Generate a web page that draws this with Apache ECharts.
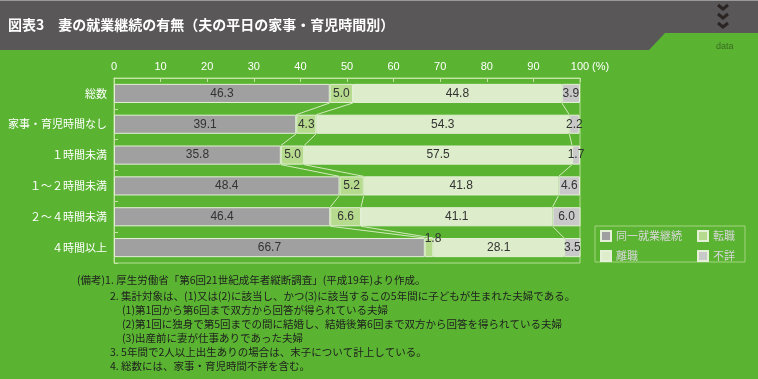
<!DOCTYPE html>
<html><head><meta charset="utf-8">
<script src="https://cdn.jsdelivr.net/npm/echarts@6/dist/echarts.min.js"></script>
<style>html,body{margin:0;padding:0;background:#5ab432;}#c{width:758px;height:379px;}</style>
</head><body><div id="c"></div>
<script>
const categories = ['総数','家事・育児時間なし','１時間未満','１～２時間未満','２～４時間未満','４時間以上'];
const seriesNames = ['同一就業継続','転職','離職','不詳'];
const sameJob = [46.3,39.1,35.8,48.4,46.4,66.7];
const changeJob = [5.0,4.3,5.0,5.2,6.6,1.8];
const quitJob = [44.8,54.3,57.5,41.8,41.1,28.1];
const unknown = [3.9,2.2,1.7,4.6,6.0,3.5];
const xTicks = [0,10,20,30,40,50,60,70,80,90,100];
const notes = [
  '(備考)1. 厚生労働省「第6回21世紀成年者縦断調査」(平成19年)より作成。',
  '2. 集計対象は、(1)又は(2)に該当し、かつ(3)に該当するこの5年間に子どもが生まれた夫婦である。',
  '(1)第1回から第6回まで双方から回答が得られている夫婦',
  '(2)第1回に独身で第5回までの間に結婚し、結婚後第6回まで双方から回答を得られている夫婦',
  '(3)出産前に妻が仕事ありであった夫婦',
  '3. 5年間で2人以上出生ありの場合は、末子について計上している。',
  '4. 総数には、家事・育児時間不詳を含む。'
];
const title = '図表3　妻の就業継続の有無（夫の平日の家事・育児時間別）';

const BG = '#5ab432';
const colors = ['#a0a0a0','#b6da8e','#ddecca','#c9c9c9'];
const font = '"Noto Sans CJK JP", "Liberation Sans", sans-serif';
const allSeries = [sameJob, changeJob, quitJob, unknown];

const cum = [];
for (let k = 0; k < 3; k++) {
  cum.push(categories.map((_, i) => { let s = 0; for (let j = 0; j <= k; j++) s += allSeries[j][i]; return s; }));
}
const connectors = [];
for (let i = 0; i < categories.length - 1; i++) {
  for (let k = 0; k < 3; k++) connectors.push([cum[k][i], i, cum[k][i+1], i+1]);
}

const noteX = [77,110,122,122,122,110,110];
const noteY = [280,296,310.5,324.5,338.5,352.5,366.5];
const noteGraphics = notes.map((t, i) => ({
  type:'text', x: noteX[i], y: noteY[i],
  style:{text:t, fill:'#1e1e1e', font:'10.5px ' + font, verticalAlign:'middle'}
}));

const chart = echarts.init(document.getElementById('c'));
const barSeries = seriesNames.map((name, si) => ({
  name, type:'bar', stack:'t', barWidth:'62%',
  itemStyle:{color:colors[si], borderColor:'#e4f1d6', borderWidth:1},
  label:{show:true, position:'inside', color:'#333', fontSize:12, fontFamily:'"Liberation Sans", Arial, sans-serif',
         formatter:p => p.value.toFixed(1)},
  data: allSeries[si].map((v, i) => {
    if (si === 1 && i === 5) return {value:v, label:{position:'top', distance:-7, offset:[4,0]}};
    return v;
  }),
  z:3
}));

const legendCommon = {orient:'vertical', top:225, padding:5, itemWidth:10, itemHeight:10, itemGap:8,
  icon:'rect', textStyle:{color:'#d6d6d6', fontSize:11, fontFamily:font}, selectedMode:false};

chart.setOption({
  animation:false,
  backgroundColor:BG,
  grid:{left:114, right:178, top:78, bottom:116, outerBoundsMode:'none', containLabel:false,
        show:true, borderColor:'#b9df95', borderWidth:1, backgroundColor:'transparent'},
  xAxis:{type:'value', position:'top', min:0, max:100, interval:10,
    axisLine:{show:true, lineStyle:{color:'#c4e4a4'}},
    axisTick:{show:true, inside:true, length:4, lineStyle:{color:'#c4e4a4'}},
    splitLine:{show:false},
    axisLabel:{color:'#fff', fontSize:11, margin:6, fontFamily:'"Liberation Sans", Arial, sans-serif',
      formatter:v => xTicks.includes(v) ? String(v) : ''}
  },
  yAxis:{type:'category', data:categories, inverse:true,
    axisLine:{show:true, lineStyle:{color:'#c4e4a4'}},
    axisTick:{show:true, inside:true, length:4, lineStyle:{color:'#c4e4a4'}},
    axisLabel:{color:'#fff', fontSize:11, margin:7, fontFamily:font}
  },
  legend:[
    Object.assign({data:['同一就業継続','離職'], left:595}, legendCommon),
    Object.assign({data:['転職','不詳'], left:692}, legendCommon)
  ],
  series:[...barSeries, {
    type:'custom', name:'conn', z:2, silent:true,
    encode:{x:[0,2], y:[1,3]},
    data:connectors,
    renderItem:(params, api) => {
      const p1 = api.coord([api.value(0), api.value(1)]);
      const p2 = api.coord([api.value(2), api.value(3)]);
      const half = api.size([0,1])[1] * 0.31;
      return {type:'line', shape:{x1:p1[0], y1:p1[1]+half, x2:p2[0], y2:p2[1]-half},
        style:{stroke:'#d3eabb', lineWidth:1}};
    }
  }],
  graphic:[
    {type:'rect', shape:{x:0,y:0,width:758,height:50}, style:{fill:'#595758'}, z:-1},
    {type:'rect', shape:{x:0,y:0,width:758,height:1}, style:{fill:'#9a9a9a'}, z:-1},
    {type:'polygon', shape:{points:[[649,50],[665,33],[758,33],[758,50]]}, style:{fill:BG}, z:-1},
    {type:'text', x:8, y:25, style:{text:title, fill:'#fff', font:'bold 14px ' + font, verticalAlign:'middle'}},
    {type:'polyline', shape:{points:[[718,5],[723,9],[728,5]]}, style:{stroke:'#2a2422', lineWidth:3, fill:null}},
    {type:'polyline', shape:{points:[[718,14],[723,18],[728,14]]}, style:{stroke:'#2a2422', lineWidth:3, fill:null}},
    {type:'polyline', shape:{points:[[718,23],[723,27],[728,23]]}, style:{stroke:'#2a2422', lineWidth:3, fill:null}},
    {type:'text', x:716, y:42, style:{text:'data', fill:'#3a6a22', font:'9px "Liberation Sans", sans-serif'}},
    {type:'text', x:592, y:61, style:{text:'(%)', fill:'#fff', font:'11px "Liberation Sans", sans-serif'}},
    {type:'rect', shape:{x:595,y:226,width:150,height:36}, style:{fill:'none', stroke:'#a4d47e', lineWidth:1}},
    ...noteGraphics
  ]
});
</script></body></html>
